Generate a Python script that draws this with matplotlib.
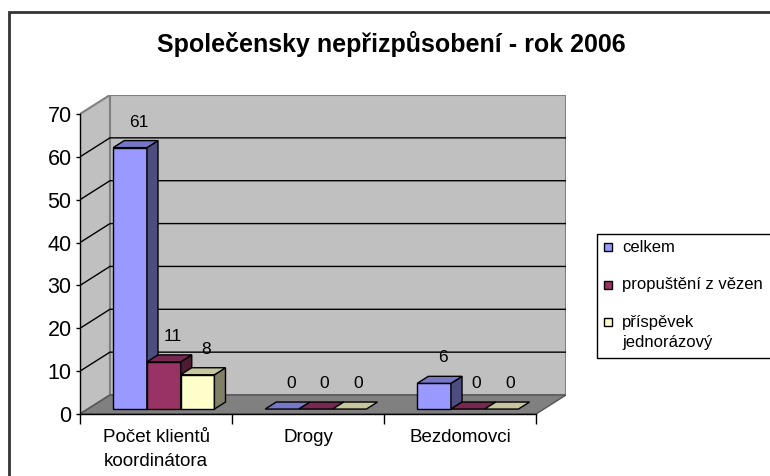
import matplotlib
matplotlib.use("Agg")
import matplotlib.pyplot as plt
from matplotlib.patches import Polygon, Rectangle
import numpy as np

plt.rcParams["font.family"] = ["Liberation Sans", "DejaVu Sans"]

# data
categories = ["Počet klientů\nkoordinátora", "Drogy", "Bezdomovci"]
series_names = ["celkem", "propuštění z vězen", "příspěvek\njednorázový"]
celkem = [61, 0, 6]
propusteni = [11, 0, 0]
prispevek = [8, 0, 0]
series_values = [celkem, propusteni, prispevek]
colors = ["#9999FF", "#993366", "#FFFFCC"]
title = "Společensky nepřizpůsobení - rok 2006"
y_ticks = list(range(0, 71, 10))

# 3d look: depth offset of the walls, in data units
DX = 0.197
DY = 4.43
Z0, Z1 = 0.26, 0.63
BW = 0.222
YMAX = 70
W, H = 770, 476


def P(x, y, z):
    return (x + z * DX, y + z * DY)


def shade(c, f):
    rgb = np.array(matplotlib.colors.to_rgb(c))
    return tuple(rgb * f)


fig = plt.figure(figsize=(W / 100, H / 100), dpi=100)
ax = fig.add_axes([80 / W, 62 / H, 486 / W, 319 / H])
ncat = len(categories)
ax.set_xlim(0, ncat + DX)
ax.set_ylim(0, YMAX + DY)
ax.patch.set_visible(False)

wall = "#C0C0C0"
edge_gray = "#808080"

# back wall, side wall, floor
ax.add_patch(Polygon([P(0, 0, 1), P(ncat, 0, 1), P(ncat, YMAX, 1), P(0, YMAX, 1)],
                     closed=True, facecolor=wall, edgecolor=edge_gray, lw=1.5, zorder=1))
ax.add_patch(Polygon([P(0, 0, 0), P(0, 0, 1), P(0, YMAX, 1), P(0, YMAX, 0)],
                     closed=True, facecolor=wall, edgecolor=edge_gray, lw=1.5, zorder=1))
ax.add_patch(Polygon([P(0, 0, 0), P(0, 0, 1), P(ncat, 0, 1), P(ncat, 0, 0)],
                     closed=True, facecolor="#808080", edgecolor="#555555", lw=1, zorder=1.5))

# gridlines
for v in y_ticks[1:-1]:
    xs, ys = zip(P(0, v, 0), P(0, v, 1), P(ncat, v, 1))
    ax.plot(xs, ys, color="black", lw=1, zorder=1.2)

# bars
for i in range(ncat):
    start = i + 0.5 - 1.5 * BW
    for s, vals in enumerate(series_values):
        v = vals[i]
        x0 = start + s * BW
        x1 = x0 + BW
        c = colors[s]
        if v > 0:
            ax.add_patch(Polygon([P(x0, 0, Z0), P(x1, 0, Z0), P(x1, v, Z0), P(x0, v, Z0)],
                                 closed=True, facecolor=c, edgecolor="black", lw=1, zorder=3))
            ax.add_patch(Polygon([P(x1, 0, Z0), P(x1, 0, Z1), P(x1, v, Z1), P(x1, v, Z0)],
                                 closed=True, facecolor=shade(c, 0.5), edgecolor="black", lw=1, zorder=3))
        ax.add_patch(Polygon([P(x0, v, Z0), P(x1, v, Z0), P(x1, v, Z1), P(x0, v, Z1)],
                             closed=True, facecolor=shade(c, 0.78), edgecolor="black", lw=1, zorder=3))
        ax.annotate(str(v), xy=P((x0 + x1) / 2, v, 0.55), xytext=(0, 9),
                    textcoords="offset points", ha="center", va="bottom",
                    fontsize=12.5, zorder=4)

# axes
for side in ["top", "right"]:
    ax.spines[side].set_visible(False)
ax.spines["left"].set_bounds(0, YMAX)
ax.spines["bottom"].set_bounds(0, ncat)
for side in ["left", "bottom"]:
    ax.spines[side].set_color("black")
    ax.spines[side].set_linewidth(1)
ax.set_yticks(y_ticks)
ax.tick_params(axis="y", length=3, width=1, labelsize=15.5, pad=3)
ax.set_xticks(range(ncat + 1))
ax.set_xticklabels([])
ax.set_xticks([i + 0.5 for i in range(ncat)], minor=True)
ax.set_xticklabels(categories, minor=True, fontsize=13.5, linespacing=1.55)
ax.tick_params(axis="x", which="major", length=7, width=1)
ax.tick_params(axis="x", which="minor", length=0, pad=11)

fig.text(391 / W, 1 - 44 / H, title, ha="center", va="center",
         fontsize=18, fontweight="bold")

# legend box (cut by the right edge, as in the original)
leg_top, leg_bottom, leg_left = 234, 358, 597
fig.add_artist(Rectangle((leg_left / W, 1 - leg_bottom / H), 0.5, (leg_bottom - leg_top) / H,
                         transform=fig.transFigure, facecolor="white",
                         edgecolor="black", lw=1))
for k, (name, c) in enumerate(zip(series_names, colors)):
    yc = 247 + 37.5 * k
    fig.add_artist(Rectangle((604 / W, 1 - (yc + 4) / H), 8 / W, 8 / H,
                             transform=fig.transFigure, facecolor=c,
                             edgecolor="black", lw=1))
    for j, line in enumerate(name.split("\n")):
        fig.text(622 / W, 1 - (yc + 21 * j) / H, line, ha="left", va="center",
                 fontsize=12)

# chart border
fig.add_artist(Rectangle((9 / W, -0.1), 1.2, 1 - 12 / H + 0.1,
                         transform=fig.transFigure, fill=False,
                         edgecolor="#333333", lw=2))

fig.savefig("out.png", dpi=100)
